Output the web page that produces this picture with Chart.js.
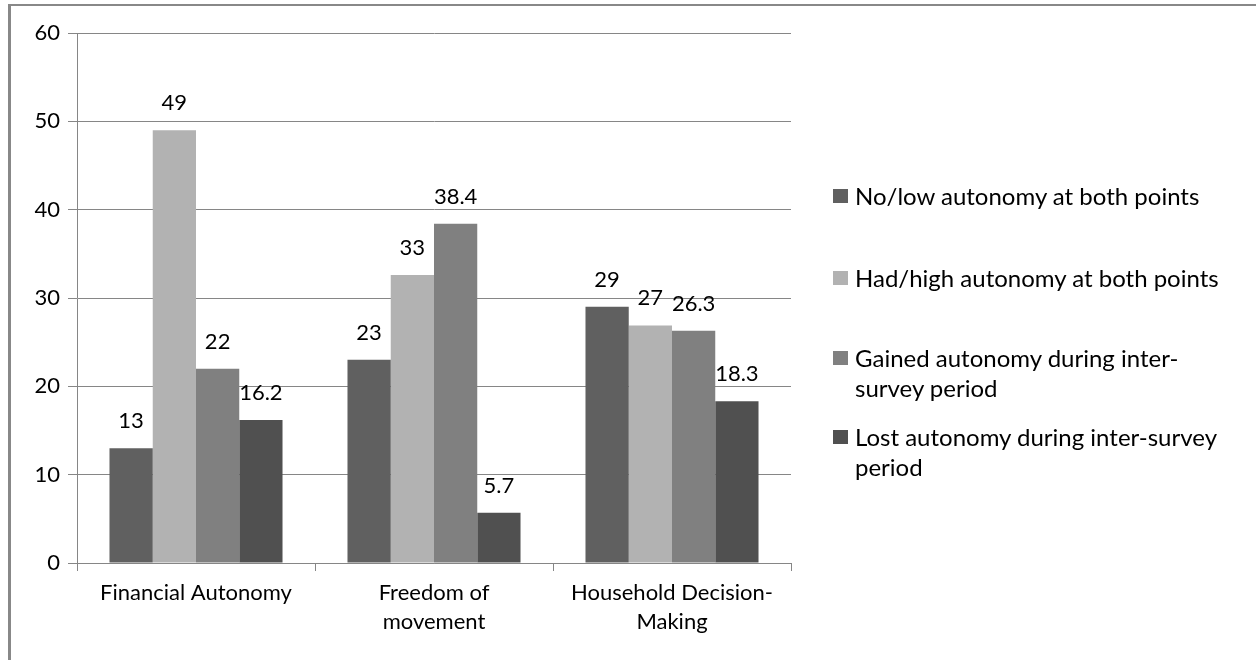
<!DOCTYPE html>
<html>
<head>
<meta charset="utf-8">
<script src="https://cdn.jsdelivr.net/npm/chart.js@4/dist/chart.umd.min.js"></script>
<style>
  body { margin: 0; background: #fff; }
  #wrap { position: relative; width: 1256px; height: 660px; overflow: hidden; }
  #frame { position: absolute; left: 8px; top: 4px; right: 0; bottom: 0;
           border-left: 3px solid #888; border-top: 2px solid #888; }
  #myChart { position: absolute; left: 0; top: 0; }
  #legend { position: absolute; left: 833px; top: 0; width: 410px;
            font-family: Lato, sans-serif; font-size: 24px; color: #000; }
  .item { position: absolute; left: 0; width: 410px; }
  .box { position: absolute; left: 0; top: 8px; width: 15px; height: 14px; }
  .txt { margin-left: 22px; line-height: 30px; width: 388px; }
</style>
</head>
<body>
<div id="wrap">
  <div id="frame"></div>
  <canvas id="myChart" width="1256" height="660"></canvas>
  <div id="legend"></div>
</div>
<script>
// categories (multi-line labels like the original)
var categories = [['Financial Autonomy'], ['Freedom of', 'movement'], ['Household Decision-', 'Making']]

var seriesNames = ['No/low autonomy at both points', 'Had/high autonomy at both points',
  'Gained autonomy during inter-survey period', 'Lost autonomy during inter-survey period']
var seriesColors = ['#606060', '#b2b2b2', '#808080', '#505050']

// values per series
var noLow = [13, 23, 29]
var hadHigh = [49, 32.6, 26.9]
var gained = [22, 38.4, 26.3]
var lost = [16.2, 5.7, 18.3]

// text printed above each bar
var noLowText = ['13', '23', '29']
var hadHighText = ['49', '33', '27']
var gainedText = ['22', '38.4', '26.3']
var lostText = ['16.2', '5.7', '18.3']

var yTicks = [0, 10, 20, 30, 40, 50, 60]

var allValues = [noLow, hadHigh, gained, lost]
var allText = [noLowText, hadHighText, gainedText, lostText]

var FONT = 'Lato, sans-serif'
var GRID = '#868686'

var barLabels = {
  id: 'barLabels',
  afterDatasetsDraw: function (chart) {
    var ctx = chart.ctx
    ctx.save()
    ctx.font = '22px ' + FONT
    ctx.fillStyle = '#000'
    ctx.textAlign = 'center'
    ctx.textBaseline = 'middle'
    chart.data.datasets.forEach(function (ds, i) {
      chart.getDatasetMeta(i).data.forEach(function (bar, j) {
        ctx.fillText(allText[i][j], bar.x, bar.y - 27)
      })
    })
    ctx.restore()
  }
}

var datasets = []
for (var i = 0; i < seriesNames.length; i++) {
  datasets.push({
    label: seriesNames[i],
    data: allValues[i],
    backgroundColor: seriesColors[i],
    borderWidth: 0
  })
}

var ctx = document.getElementById('myChart').getContext('2d')
var chart = new Chart(ctx, {
  type: 'bar',
  data: { labels: categories, datasets: datasets },
  plugins: [barLabels],
  options: {
    responsive: false,
    animation: false,
    devicePixelRatio: 1,
    categoryPercentage: 0.727,
    barPercentage: 1,
    layout: { padding: { top: 33, right: 465, left: 0, bottom: 0 } },
    plugins: { legend: { display: false }, tooltip: { enabled: false } },
    scales: {
      x: {
        grid: { offset: true, drawOnChartArea: false, color: GRID, tickLength: 8 },
        border: { color: GRID },
        ticks: { color: '#000', font: { family: FONT, size: 22, lineHeight: 1.3 }, padding: 8, maxRotation: 0 },
        afterFit: function (s) { s.height = 97 }
      },
      y: {
        min: 0, max: 60,
        afterBuildTicks: function (s) { s.ticks = yTicks.map(function (v) { return { value: v } }) },
        grid: { color: GRID, tickLength: 9 },
        border: { color: GRID },
        ticks: { color: '#000', font: { family: FONT, size: 22 }, padding: 8 },
        afterFit: function (s) { s.width = 77 }
      }
    }
  }
})

// legend on the right, same look as the original
var legendTops = [181, 263, 343, 422]
var legend = document.getElementById('legend')
seriesNames.forEach(function (name, i) {
  var item = document.createElement('div')
  item.className = 'item'
  item.style.top = legendTops[i] + 'px'
  item.innerHTML = '<div class="box" style="background:' + seriesColors[i] + '"></div><div class="txt">' + name + '</div>'
  legend.appendChild(item)
})
</script>
</body>
</html>
